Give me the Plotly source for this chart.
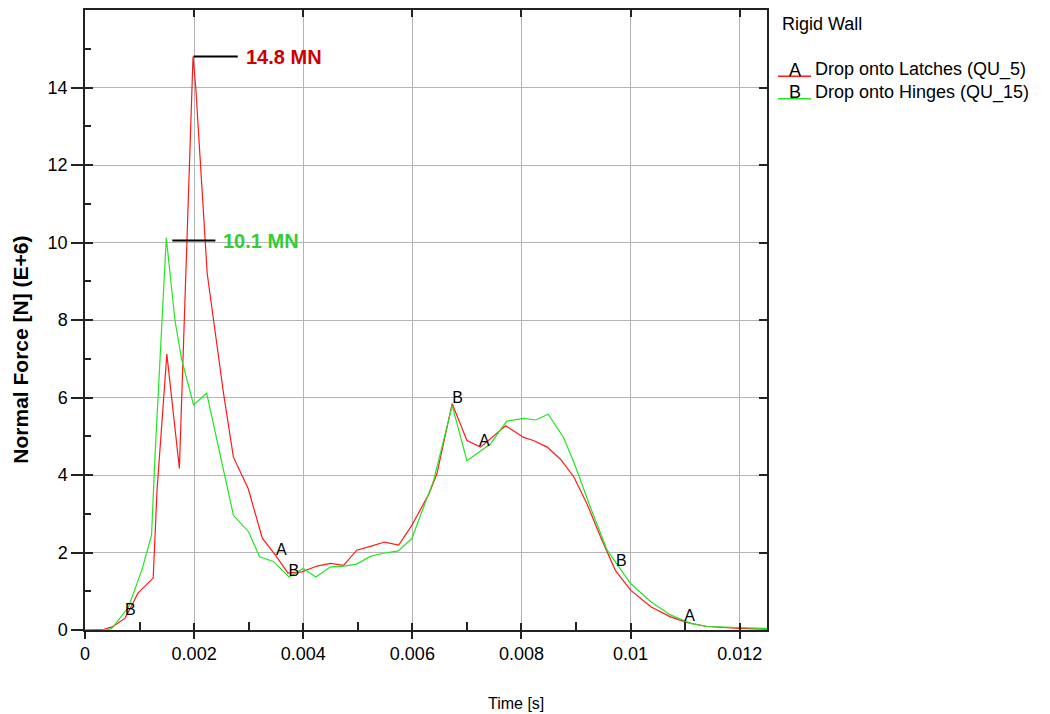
import plotly.graph_objects as go

# ---- data (time in seconds, force in MN) ----
time_a = [0, 0.00035, 0.0005, 0.00073, 0.00086, 0.00097, 0.00125, 0.00132, 0.0015,
          0.00173, 0.00198, 0.00203, 0.00224, 0.00254, 0.00272, 0.00299, 0.00325,
          0.00349, 0.00372, 0.00398, 0.00425, 0.0045, 0.00474, 0.00498, 0.00523,
          0.00549, 0.00575, 0.00599, 0.0063, 0.00645, 0.00673, 0.007, 0.00725,
          0.00771, 0.00804, 0.00822, 0.00847, 0.00872, 0.00896, 0.0092, 0.00945,
          0.00972, 0.01, 0.01037, 0.01073, 0.01104, 0.0114, 0.012, 0.0125]
force_a = [0, 0.02, 0.08, 0.3, 0.64, 0.95, 1.34, 3.6, 7.12,
           4.17, 14.8, 14.0, 9.2, 6.1, 4.46, 3.65, 2.37,
           1.93, 1.47, 1.5, 1.65, 1.72, 1.67, 2.06, 2.16,
           2.27, 2.19, 2.7, 3.5, 4.03, 5.84, 4.89, 4.72,
           5.27, 4.97, 4.89, 4.72, 4.4, 3.95, 3.26, 2.4,
           1.54, 1.03, 0.6, 0.34, 0.19, 0.09, 0.04, 0.02]

time_b = [0, 0.0004, 0.0005, 0.00061, 0.0008, 0.00104, 0.00122, 0.00128, 0.00136,
          0.00149, 0.00165, 0.00177, 0.00199, 0.00223, 0.00272, 0.003, 0.0032,
          0.00345, 0.00374, 0.004, 0.00423, 0.0045, 0.00474, 0.00498, 0.00523,
          0.00547, 0.00574, 0.00599, 0.00639, 0.00673, 0.007, 0.00743, 0.00773,
          0.00804, 0.00826, 0.00849, 0.00877, 0.00896, 0.00927, 0.00957, 0.01,
          0.01037, 0.01073, 0.0111, 0.0114, 0.012, 0.0125]
force_b = [0, 0.0, 0.05, 0.26, 0.6, 1.54, 2.45, 4.4, 6.5,
           10.12, 7.98, 6.99, 5.81, 6.11, 2.96, 2.53, 1.89,
           1.77, 1.37, 1.59, 1.37, 1.63, 1.65, 1.7, 1.9,
           1.98, 2.04, 2.36, 3.86, 5.79, 4.37, 4.8, 5.39,
           5.46, 5.42, 5.57, 4.97, 4.33, 3.14, 2.06, 1.2,
           0.73, 0.39, 0.17, 0.09, 0.06, 0.04]

# curve letter markers
label_a_t = [0.0036, 0.00732, 0.01108]
label_a_f = [2.03, 4.86, 0.33]
label_b_t = [0.00083, 0.00383, 0.00683, 0.00983]
label_b_f = [0.49, 1.49, 5.97, 1.75]

series_names = ["Drop onto Latches (QU_5)", "Drop onto Hinges (QU_15)"]
series_letters = ["A", "B"]
legend_title = "Rigid Wall"

peak_texts = ["14.8 MN", "10.1 MN"]
peak_values = [14.8, 10.05]
peak_line_start = [0.00199, 0.0016]
peak_line_end = [0.0028, 0.00239]

x_tickvals = [0, 0.002, 0.004, 0.006, 0.008, 0.01, 0.012]
x_ticktext = ["0", "0.002", "0.004", "0.006", "0.008", "0.01", "0.012"]
x_minor_ticks = [0.001, 0.003, 0.005, 0.007, 0.009, 0.011]
y_tickvals = [0, 2, 4, 6, 8, 10, 12, 14]
y_ticktext = ["0", "2", "4", "6", "8", "10", "12", "14"]
y_minor_ticks = [1, 3, 5, 7, 9, 11, 13, 15]
x_range = [0, 0.0125]
y_range = [0, 16]

RED = "#ff1a1a"
GREEN = "#22e622"
COLORS = [RED, GREEN]
FONT = "Liberation Sans, Arial, sans-serif"
AXC = "#222222"

fig = go.Figure()
fig.add_trace(go.Scatter(x=time_a, y=force_a, mode="lines", name=series_names[0],
                         line=dict(color=RED, width=1.2), showlegend=False))
fig.add_trace(go.Scatter(x=time_b, y=force_b, mode="lines", name=series_names[1],
                         line=dict(color=GREEN, width=1.2), showlegend=False))
fig.add_trace(go.Scatter(x=label_a_t, y=label_a_f, mode="text", text=["A"] * len(label_a_t),
                         textfont=dict(size=16, color="black", family=FONT),
                         showlegend=False, hoverinfo="skip"))
fig.add_trace(go.Scatter(x=label_b_t, y=label_b_f, mode="text", text=["B"] * len(label_b_t),
                         textfont=dict(size=16, color="black", family=FONT),
                         showlegend=False, hoverinfo="skip"))
# empty traces binding the overlay axes (inside ticks / mirrored frame / minor ticks)
fig.add_trace(go.Scatter(x=[], y=[], xaxis="x2", yaxis="y2", showlegend=False,
                         hoverinfo="skip"))
fig.add_trace(go.Scatter(x=[], y=[], xaxis="x3", yaxis="y3", showlegend=False,
                         hoverinfo="skip"))

# peak callouts
for i, (txt, col) in enumerate(zip(peak_texts, ["#cc0000", "#33cc33"])):
    fig.add_shape(type="line", x0=peak_line_start[i], x1=peak_line_end[i],
                  y0=peak_values[i], y1=peak_values[i], xref="x", yref="y",
                  line=dict(color="black", width=2))
    fig.add_annotation(x=peak_line_end[i], y=peak_values[i], xref="x", yref="y",
                       text="<b>" + txt + "</b>", showarrow=False, xanchor="left",
                       xshift=6, font=dict(size=20, color=col, family=FONT))

# axis titles
fig.add_annotation(x=-0.094, y=0.452, xref="paper", yref="paper", textangle=-90,
                   xanchor="center", yanchor="middle",
                   text="<b>Normal Force [N] (E+6)</b>", showarrow=False,
                   font=dict(size=21, color="black", family=FONT))
fig.add_annotation(x=0.632, y=-0.118, xref="paper", yref="paper",
                   xanchor="center", yanchor="middle",
                   text="Time [s]", showarrow=False,
                   font=dict(size=16, color="black", family=FONT))

# legend block (right of plot)
PW, PH, L, B = 682.0, 622.0, 85.0, 84.0


def px_x(px):
    return (px - L) / PW


def px_y(py):
    return (714 - B - py) / PH


fig.add_annotation(x=px_x(780), y=px_y(22), xref="paper", yref="paper",
                   text=legend_title, showarrow=False, xanchor="left", yanchor="middle",
                   font=dict(size=18, color="black", family=FONT))
for i, (name, letter) in enumerate(zip(series_names, series_letters)):
    ty = 68 + 22.5 * i
    fig.add_shape(type="line", xref="paper", yref="paper",
                  x0=px_x(778), x1=px_x(811), y0=px_y(ty + 6.5), y1=px_y(ty + 6.5),
                  line=dict(color=COLORS[i], width=1.5))
    fig.add_annotation(x=px_x(795), y=px_y(ty), xref="paper", yref="paper",
                       text=letter, showarrow=False, xanchor="center", yanchor="middle",
                       font=dict(size=18, color="black", family=FONT))
    fig.add_annotation(x=px_x(813), y=px_y(ty), xref="paper", yref="paper",
                       text=name, showarrow=False, xanchor="left", yanchor="middle",
                       font=dict(size=18, color="black", family=FONT))

axis_common = dict(showline=True, linecolor=AXC, linewidth=1.5, zeroline=False)
overlay_common = dict(showticklabels=False, showgrid=False, tickcolor=AXC,
                      tickwidth=1.5, **axis_common)

fig.update_layout(
    width=1050, height=714,
    margin=dict(l=85, r=283, t=8, b=84),
    paper_bgcolor="white", plot_bgcolor="white",
    font=dict(family=FONT, size=18, color="black"),
    showlegend=False,
    xaxis=dict(range=x_range, tickvals=x_tickvals, ticktext=x_ticktext,
               ticks="outside", ticklen=7, tickcolor=AXC, tickwidth=1.5,
               showgrid=True, gridcolor="#b4b4b4", gridwidth=1,
               tickfont=dict(size=18), **axis_common),
    yaxis=dict(range=y_range, tickvals=y_tickvals, ticktext=y_ticktext,
               ticks="outside", ticklen=12, tickcolor=AXC, tickwidth=1.5,
               showgrid=True, gridcolor="#b4b4b4", gridwidth=1,
               tickfont=dict(size=18), **axis_common),
    xaxis2=dict(range=x_range, overlaying="x", anchor="y2", side="bottom",
                tickvals=x_tickvals, ticks="inside", ticklen=7, mirror="ticks",
                **overlay_common),
    yaxis2=dict(range=y_range, overlaying="y", anchor="x2", side="left",
                tickvals=y_tickvals, ticks="inside", ticklen=8, mirror="ticks",
                **overlay_common),
    xaxis3=dict(range=x_range, overlaying="x", anchor="y3", side="bottom",
                tickvals=x_minor_ticks, ticks="inside", ticklen=8,
                **overlay_common),
    yaxis3=dict(range=y_range, overlaying="y", anchor="x3", side="left",
                tickvals=y_minor_ticks, ticks="inside", ticklen=6,
                **overlay_common),
)

fig.write_html("out.html")
